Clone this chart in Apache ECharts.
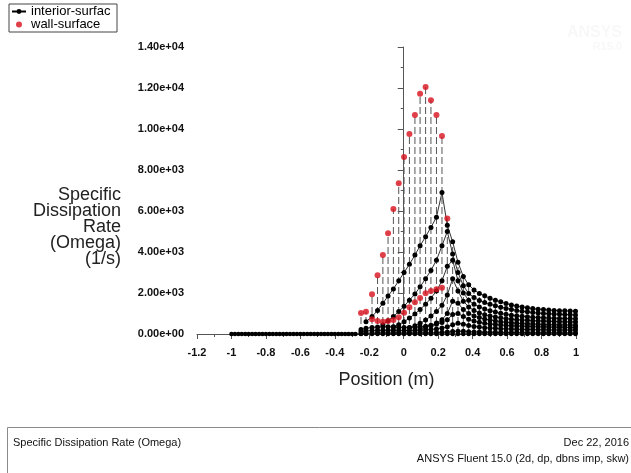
<!DOCTYPE html>
<html>
<head>
<meta charset="utf-8">
<script src="https://cdn.jsdelivr.net/npm/echarts@6/dist/echarts.min.js"></script>
<style>
  html, body { margin: 0; padding: 0; background: #fff; }
  #chart { width: 631px; height: 473px; }
</style>
</head>
<body>
<div id="chart"></div>
<script>
// Specific dissipation rate along the plotting line (Fluent XY plot export)

// Cells upstream of the leading edge (omega ~ 0)
const flatX = [-1.00, -0.98, -0.96, -0.94, -0.92, -0.90, -0.88, -0.86, -0.84, -0.82,
               -0.80, -0.78, -0.76, -0.74, -0.72, -0.70, -0.68, -0.66, -0.64, -0.62,
               -0.60, -0.58, -0.56, -0.54, -0.52, -0.50, -0.48, -0.46, -0.44, -0.42,
               -0.40, -0.38, -0.36, -0.34, -0.32, -0.30, -0.28];
const flatOmega = [0, 0, 0, 0, 0, 0, 0, 0, 0, 0,
                   0, 0, 0, 0, 0, 0, 0, 0, 0, 0,
                   0, 0, 0, 0, 0, 0, 0, 0, 0, 0,
                   0, 0, 0, 0, 0, 0, 0];

// Mesh columns downstream of x = -0.25
const colX = [-0.248, -0.219, -0.184, -0.152, -0.121, -0.091, -0.060, -0.029, 0.002, 0.033,
               0.065, 0.095, 0.127, 0.158, 0.190, 0.222, 0.253, 0.284, 0.315, 0.346,
               0.377, 0.408, 0.439, 0.470, 0.501, 0.532, 0.563, 0.594, 0.625, 0.656,
               0.687, 0.718, 0.749, 0.780, 0.811, 0.842, 0.873, 0.904, 0.935, 0.966, 0.997];

// Interior cell rows (1/s), one value per column
const row0 = [0, 0, 0, 0, 0, 0, 0, 0, 0, 0, 0, 0, 0, 0, 0, 0, 0, 0, 0, 0, 0,
              0, 0, 0, 0, 0, 0, 0, 0, 0, 0, 0, 0, 0, 0, 0, 0, 0, 0, 0, 0];
const row1 = [null, 600, 850, 1150, 1500, 1850, 2200, 2600, 3000, 3400, 3850, 4300, 4750, 5200, 5700, 6900, 5300,
              4500, 3500, 2800, 2400, 2150, 1980, 1860, 1740, 1650, 1570, 1490, 1420, 1370, 1320, 1280, 1240,
              1210, 1190, 1170, 1150, 1140, 1130, 1120, 1110];
const row2 = [null, null, null, null, 450, 650, 850, 1100, 1350, 1650, 1950, 2300, 2700, 3100, 3600, 4300, 5000,
              3900, 3000, 2350, 1980, 1780, 1640, 1540, 1450, 1380, 1310, 1250, 1200, 1150, 1110, 1080, 1050,
              1020, 1000, 985, 970, 960, 950, 940, 930];
const row3 = [null, null, null, null, null, null, 350, 450, 600, 780, 980, 1200, 1450, 1750, 2100, 2600, 3300,
              3600, 2600, 2000, 1650, 1450, 1320, 1220, 1140, 1070, 1010, 960, 920, 890, 860, 840, 820,
              800, 790, 780, 770, 760, 755, 750, 745];
const row4 = [null, null, null, null, null, null, null, null, null, 300, 400, 520, 680, 880, 1100, 1400, 1900,
              2700, 2100, 1600, 1320, 1150, 1030, 940, 880, 830, 790, 750, 720, 700, 680, 665, 650,
              640, 630, 620, 610, 600, 595, 590, 585];
const row5 = [null, null, null, null, null, null, null, null, null, null, null, 250, 330, 420, 540, 700, 1000,
              1600, 1500, 1200, 1000, 880, 800, 730, 680, 640, 600, 570, 545, 525, 510, 495, 485,
              475, 465, 455, 450, 445, 440, 435, 430];
const row6 = [220, 280, 320, 340, 350, 350, 340, 330, 320, 320, 330, 350, 380, 420, 480, 560, 700,
              950, 1000, 850, 720, 630, 570, 520, 490, 460, 440, 420, 400, 390, 380, 370, 360,
              350, 345, 340, 335, 330, 325, 320, 315];
const row7 = [120, 150, 170, 180, 185, 185, 180, 175, 170, 170, 175, 185, 200, 220, 250, 290, 350,
              450, 520, 480, 420, 370, 340, 310, 290, 275, 260, 250, 240, 230, 225, 220, 215,
              210, 205, 200, 198, 196, 194, 192, 190];
const row8 = [30, 40, 45, 50, 50, 50, 50, 50, 50, 50, 50, 55, 60, 65, 70, 80, 95,
              120, 140, 130, 115, 100, 95, 90, 85, 80, 78, 75, 72, 70, 68, 66, 64,
              62, 60, 58, 57, 56, 55, 54, 53];

// Wall faces (1/s)
const wallUpperX = [-0.248, -0.219, -0.184, -0.152, -0.121, -0.091, -0.060, -0.029, 0.002,
                    0.033, 0.065, 0.095, 0.127, 0.158, 0.190, 0.222, 0.253];
const wallUpper = [1020, 1090, 1940, 2860, 3850, 4910, 6100, 7350, 8630,
                   9760, 10680, 11720, 12050, 11400, 10680, 9660, 5640];
const wallLowerX = [-0.184, -0.152, -0.121, -0.091, -0.060, -0.029, 0.002,
                    0.033, 0.065, 0.095, 0.127, 0.158, 0.190, 0.222];
const wallLower = [720, 630, 600, 630, 680, 820, 1040,
                   1300, 1550, 1760, 1990, 2100, 2180, 2260];

// Axis ticks
const xTicks = { min: -1.2, max: 1, step: 0.2 };
const yTicks = { min: 0, max: 14000, step: 2000 };

const FONT = '"Liberation Sans", Arial, sans-serif';
const rows = [row1, row2, row3, row4, row5, row6, row7, row8];

const series = [];

// Upstream points plus the bottom row of the mesh
series.push({
  name: 'interior-surface',
  type: 'line',
  data: flatX.map((x, i) => [x, flatOmega[i]]).concat(colX.map((x, i) => [x, row0[i]])),
  symbol: 'circle',
  symbolSize: 4.5,
  showAllSymbol: true,
  itemStyle: { color: '#000' },
  lineStyle: { color: '#000', width: 1 },
  z: 3
});

// Vertical mesh lines through each column
colX.forEach((x, i) => {
  let top = 0;
  rows.forEach(r => { if (r[i] != null && r[i] > top) top = r[i]; });
  const w = wallUpperX.indexOf(x);
  if (w >= 0 && wallUpper[w] > top) top = wallUpper[w];
  series.push({
    name: 'interior-surface',
    type: 'line',
    data: [[x, row0[i]], [x, top]],
    symbol: 'none',
    silent: true,
    lineStyle: { color: '#555', width: 1, type: [7, 3] },
    z: 2
  });
});

// Cell rows
rows.forEach(r => {
  const pts = [];
  colX.forEach((x, i) => { if (r[i] != null) pts.push([x, r[i]]); });
  series.push({
    name: 'interior-surface',
    type: 'line',
    data: pts,
    symbol: 'circle',
    symbolSize: 5,
    showAllSymbol: true,
    itemStyle: { color: '#000' },
    lineStyle: { color: '#333', width: 1 },
    z: 3
  });
});

// Wall faces
series.push({
  name: 'wall-surface',
  type: 'scatter',
  data: wallUpperX.map((x, i) => [x, wallUpper[i]])
        .concat(wallLowerX.map((x, i) => [x, wallLower[i]])),
  symbol: 'circle',
  symbolSize: 6,
  itemStyle: { color: '#d8101c' },
  z: 5
});

const chart = echarts.init(document.getElementById('chart'), null, { renderer: 'canvas' });
chart.setOption({
  animation: false,
  backgroundColor: '#fff',
  textStyle: { fontFamily: FONT },
  grid: { left: 197, right: 55, top: 47, bottom: 139 },
  legend: {
    data: ['interior-surface', 'wall-surface'],
    orient: 'vertical',
    left: 9,
    top: 4,
    padding: [1, 2, 1, 2],
    itemGap: 0,
    itemWidth: 14,
    itemHeight: 6,
    borderColor: '#444',
    borderWidth: 1,
    borderRadius: 0,
    selectedMode: false,
    textStyle: {
      fontFamily: FONT, fontSize: 13, color: '#000', lineHeight: 12,
      width: 84, overflow: 'truncate', ellipsis: ''
    }
  },
  xAxis: {
    type: 'value',
    min: xTicks.min,
    max: xTicks.max,
    interval: xTicks.step,
    name: 'Position (m)',
    nameLocation: 'middle',
    nameGap: 37,
    nameTextStyle: { fontFamily: FONT, fontSize: 18, color: '#222' },
    axisLine: { show: true, onZero: false, lineStyle: { color: '#555', width: 1 } },
    axisTick: { show: true, length: 5, lineStyle: { color: '#555' } },
    minorTick: { show: true, splitNumber: 2, length: 3, lineStyle: { color: '#555' } },
    splitLine: { show: false },
    axisLabel: { fontFamily: FONT, fontSize: 11, fontWeight: 'bold', color: '#111', margin: 13 }
  },
  yAxis: {
    type: 'value',
    min: yTicks.min,
    max: yTicks.max,
    interval: yTicks.step,
    axisLine: { show: true, lineStyle: { color: '#555', width: 1 } },
    axisTick: { show: true, length: 6, lineStyle: { color: '#555' } },
    minorTick: { show: true, splitNumber: 2, length: 3, lineStyle: { color: '#555' } },
    splitLine: { show: false },
    axisLabel: {
      fontFamily: FONT, fontSize: 11, fontWeight: 'bold', color: '#111', margin: 13,
      formatter: v => v.toExponential(2).replace(/e([+-])(\d)$/, 'e$10$2')
    }
  },
  graphic: [
    {
      type: 'text', x: 121, y: 227, z: 10,
      style: {
        text: 'Specific\nDissipation\nRate\n(Omega)\n(1/s)',
        font: '18px ' + FONT, fill: '#222', lineHeight: 16,
        align: 'right', verticalAlign: 'middle'
      }
    },
    {
      type: 'text', x: 622, y: 33, z: 0,
      style: { text: 'ANSYS', font: 'bold 16px ' + FONT, fill: '#f8f8f8', align: 'right', verticalAlign: 'middle' }
    },
    {
      type: 'text', x: 622, y: 47, z: 0,
      style: { text: 'R15.0', font: 'bold 11px ' + FONT, fill: '#f8f8f8', align: 'right', verticalAlign: 'middle' }
    },
    {
      type: 'rect', z: 10,
      shape: { x: 7.5, y: 427.5, width: 640, height: 60 },
      style: { fill: '#fff', stroke: '#8a8a8a', lineWidth: 1 }
    },
    {
      type: 'text', x: 13, y: 443, z: 11,
      style: { text: 'Specific Dissipation Rate (Omega)', font: '11px ' + FONT, fill: '#111', verticalAlign: 'middle' }
    },
    {
      type: 'text', x: 629, y: 443, z: 11,
      style: { text: 'Dec 22, 2016', font: '11px ' + FONT, fill: '#111', align: 'right', verticalAlign: 'middle' }
    },
    {
      type: 'text', x: 629, y: 459, z: 11,
      style: { text: 'ANSYS Fluent 15.0 (2d, dp, dbns imp, skw)', font: '11px ' + FONT, fill: '#111', align: 'right', verticalAlign: 'middle' }
    }
  ],
  series: series
});
</script>
</body>
</html>
